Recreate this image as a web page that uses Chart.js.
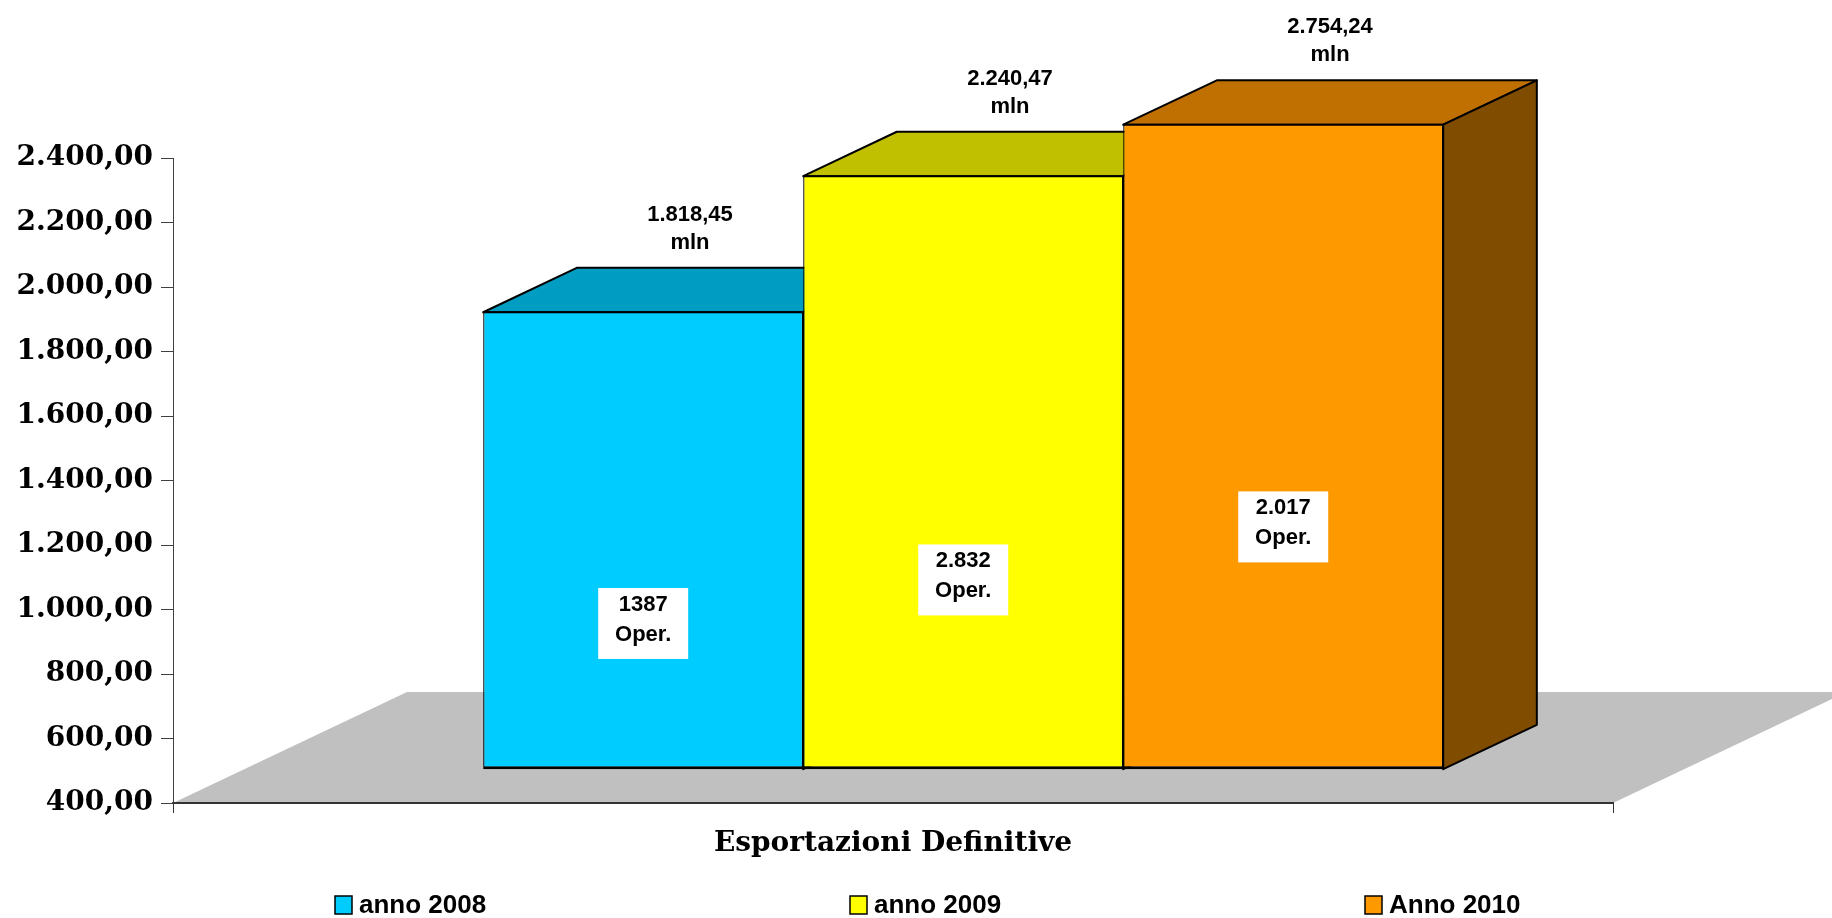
<!DOCTYPE html>
<html lang="it">
<head>
  <meta charset="UTF-8">
  <title>Esportazioni Definitive</title>
  <script src="https://cdn.jsdelivr.net/npm/chart.js"></script>
  <style>
    html, body { margin: 0; padding: 0; background: #fff; }
  </style>
</head>
<body>
  <canvas id="myChart" width="1832" height="918"></canvas>
  <script>
    const categories = ['Esportazioni Definitive'];
    const seriesNames = ['anno 2008', 'anno 2009', 'Anno 2010'];
    const valuesMln = [1818.45, 2240.47, 2754.24];
    const operations = ['1387', '2.832', '2.017'];
    const yMin = 400, yMax = 2400, yStep = 200;

    const frontColors = ['#00CCFF', '#FFFF00', '#FF9900'];
    const topColors = ['#009CC2', '#C0C000', '#C07000'];
    const sideColors = ['#006680', '#808000', '#7F4C00'];

    // fake 3d: floor depth, bars sit between 30% and 70% of it
    const floorDX = 234, floorDY = -111;
    const frontDX = floorDX * 0.3, frontDY = floorDY * 0.3;
    const barDX = floorDX * 0.4, barDY = floorDY * 0.4;

    const labelFont = 'bold 22px "Liberation Sans"';
    const serifBold = { family: 'DejaVu Serif', weight: 'bold', size: 28 };

    // 2400 -> "2.400,00"
    function fmtIt(v, dec) {
      const parts = v.toFixed(dec).split('.');
      const int = parts[0].replace(/\B(?=(\d{3})+(?!\d))/g, '.');
      return parts[1] ? int + ',' + parts[1] : int;
    }

    function barBox(chart, i) {
      const el = chart.getDatasetMeta(i).data[0];
      const top = Math.max(el.y, chart.chartArea.top);
      return {
        l: el.x - el.width / 2 + frontDX,
        r: el.x + el.width / 2 + frontDX,
        t: top + frontDY,
        rawT: el.y + frontDY,
        b: el.base + frontDY
      };
    }

    function poly(ctx, pts, fill) {
      ctx.beginPath();
      ctx.moveTo(pts[0][0], pts[0][1]);
      for (let k = 1; k < pts.length; k++) ctx.lineTo(pts[k][0], pts[k][1]);
      ctx.closePath();
      ctx.fillStyle = fill;
      ctx.fill();
      ctx.stroke();
    }

    const bars3d = {
      id: 'bars3d',
      beforeDraw(chart) {
        const { ctx, chartArea: a } = chart;
        ctx.save();
        ctx.fillStyle = '#C0C0C0';
        ctx.beginPath();
        ctx.moveTo(a.left, a.bottom);
        ctx.lineTo(a.right, a.bottom);
        ctx.lineTo(a.right + floorDX, a.bottom + floorDY);
        ctx.lineTo(a.left + floorDX, a.bottom + floorDY);
        ctx.closePath();
        ctx.fill();
        ctx.restore();
      },
      beforeDatasetsDraw(chart) {
        const ctx = chart.ctx;
        ctx.save();
        ctx.strokeStyle = '#000';
        ctx.lineWidth = 2;
        ctx.lineJoin = 'round';
        chart.data.datasets.forEach((ds, i) => {
          const p = barBox(chart, i);
          poly(ctx, [[p.l, p.t], [p.r, p.t], [p.r + barDX, p.t + barDY], [p.l + barDX, p.t + barDY]], topColors[i]);
          poly(ctx, [[p.r, p.t], [p.r + barDX, p.t + barDY], [p.r + barDX, p.b + barDY], [p.r, p.b]], sideColors[i]);
        });
        ctx.restore();
      },
      beforeDatasetDraw(chart) {
        chart.ctx.save();
        chart.ctx.translate(frontDX, frontDY);
      },
      afterDatasetDraw(chart) {
        chart.ctx.restore();
      },
      afterDatasetsDraw(chart) {
        const ctx = chart.ctx;
        ctx.save();
        chart.data.datasets.forEach((ds, i) => {
          const p = barBox(chart, i);
          // front top edge
          ctx.strokeStyle = '#000';
          ctx.lineWidth = 2;
          ctx.beginPath();
          ctx.moveTo(p.l, p.t);
          ctx.lineTo(p.r, p.t);
          ctx.stroke();

          // value above the bar
          const cx = (p.l + p.r) / 2 + barDX / 2;
          const backTop = p.t + barDY;
          ctx.fillStyle = '#000';
          ctx.font = labelFont;
          ctx.textAlign = 'center';
          ctx.textBaseline = 'middle';
          ctx.fillText(fmtIt(valuesMln[i], 2), cx, backTop - 53);
          ctx.fillText('mln', cx, backTop - 25);

          // operations box on the front face
          const fx = (p.l + p.r) / 2;
          const fy = p.b - (p.b - p.rawT) * 0.32;
          ctx.fillStyle = '#fff';
          ctx.fillRect(fx - 45, fy - 35, 90, 71);
          ctx.fillStyle = '#000';
          ctx.font = 'bold 22px "Liberation Sans"';
          ctx.fillText(operations[i], fx, fy - 18);
          ctx.fillText('Oper.', fx, fy + 12);
        });
        ctx.restore();
      },
      afterDraw(chart) {
        const ctx = chart.ctx;
        const left = 335, colW = 515, y = 905;
        ctx.save();
        ctx.font = 'bold 26px "Liberation Sans"';
        ctx.textBaseline = 'middle';
        ctx.textAlign = 'left';
        seriesNames.forEach((name, i) => {
          const x0 = left + colW * i;
          ctx.fillStyle = frontColors[i];
          ctx.fillRect(x0, y - 9, 17, 18);
          ctx.strokeStyle = '#000';
          ctx.lineWidth = 1.5;
          ctx.strokeRect(x0, y - 9, 17, 18);
          ctx.fillStyle = '#000';
          ctx.fillText(name, x0 + 24, y + 1);
        });
        ctx.restore();
      }
    };

    const ctx = document.getElementById('myChart').getContext('2d');
    const myChart = new Chart(ctx, {
      type: 'bar',
      data: {
        labels: categories,
        datasets: seriesNames.map((name, i) => ({
          label: name,
          data: [valuesMln[i]],
          backgroundColor: frontColors[i],
          borderColor: '#000',
          borderWidth: { top: 0, left: 1.3, right: 1.3, bottom: 3 },
          borderSkipped: false,
          base: yMin,
          clip: { top: 0, left: false, right: false, bottom: false }
        }))
      },
      options: {
        responsive: false,
        animation: false,
        layout: { padding: { left: 14, right: 219, top: 158, bottom: 57 } },
        datasets: {
          bar: { categoryPercentage: 0.6667, barPercentage: 1 }
        },
        scales: {
          x: {
            grid: { drawOnChartArea: false, tickLength: 10, color: '#333' },
            border: { color: '#333', width: 2 },
            ticks: { font: serifBold, color: '#000', padding: 14 },
            afterFit(s) { s.height = 58; }
          },
          y: {
            min: yMin,
            max: yMax,
            grid: { drawOnChartArea: false, tickLength: 12, color: '#404040' },
            border: { color: '#404040', width: 1 },
            ticks: {
              stepSize: yStep,
              font: serifBold,
              color: '#000',
              padding: 8,
              callback: (v) => fmtIt(v, 2)
            },
            afterFit(s) { s.width = 159; }
          }
        },
        plugins: {
          legend: { display: false },
          tooltip: { enabled: false }
        }
      },
      plugins: [bars3d]
    });
  </script>
</body>
</html>
